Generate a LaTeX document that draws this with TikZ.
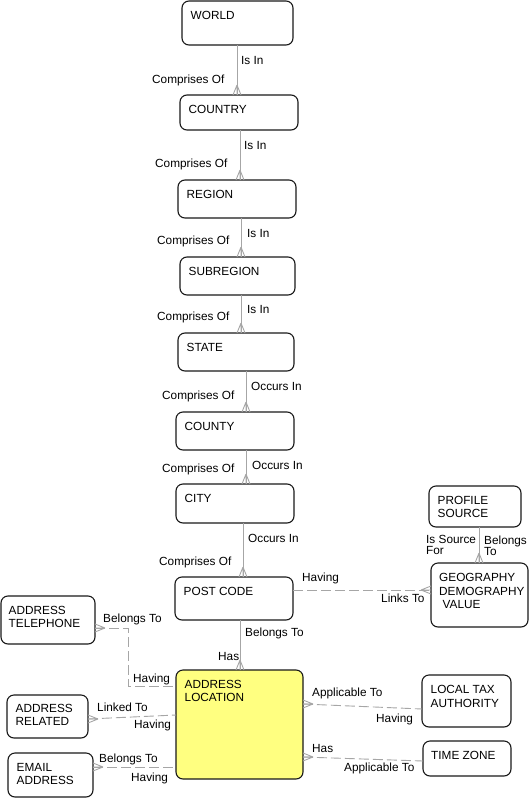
\documentclass[tikz,border=0pt]{standalone}
\usepackage{fontspec}
\setmainfont{Liberation Sans}
\begin{document}
\begin{tikzpicture}[x=1pt,y=-1pt,
  box/.style={draw=black!90, line width=1.1pt, rounded corners=7pt, inner sep=0pt, outer sep=0pt},
  ent/.style={box, fill=white},
  key/.style={box, fill={rgb,255:red,255;green,255;blue,128}},
  ttl/.style={anchor=north west, inner sep=0pt, align=left, font=\fontsize{11.8}{13.5}\selectfont},
  lbl/.style={anchor=base west, inner sep=0pt, align=left, font=\fontsize{11.8}{11}\selectfont},
  mlbl/.style={anchor=north west, inner sep=0pt, align=left, font=\fontsize{11.8}{11}\selectfont},
  conn/.style={draw=gray!70, line width=0.9pt},
  dconn/.style={conn, dash pattern=on 10pt off 4pt},
  crow/.pic={\draw[conn] (0,-10) -- (-4,0) (0,-10) -- (0,0) (0,-10) -- (4,0);}
]
\fill[white] (0,0) rectangle (530,798);
\useasboundingbox (0,0) rectangle (530,798);

% entities
\node[ent, minimum width=111pt, minimum height=44pt] (world) at (237.5,23) {};
\node[ent, minimum width=118pt, minimum height=35pt] (country) at (239,112.5) {};
\node[ent, minimum width=118pt, minimum height=38pt] (region) at (237,199) {};
\node[ent, minimum width=115pt, minimum height=38pt] (subregion) at (237.5,276) {};
\node[ent, minimum width=116pt, minimum height=38pt] (state) at (236,352) {};
\node[ent, minimum width=118pt, minimum height=38pt] (county) at (235,431) {};
\node[ent, minimum width=118pt, minimum height=39pt] (city) at (235,503.5) {};
\node[ent, minimum width=118pt, minimum height=43pt] (postcode) at (234,598.5) {};
\node[key, minimum width=127pt, minimum height=109pt] (al) at (239.5,724.5) {};
\node[ent, minimum width=94pt, minimum height=48pt] (tel) at (48,620) {};
\node[ent, minimum width=81pt, minimum height=43pt] (ar) at (47.5,716.5) {};
\node[ent, minimum width=85pt, minimum height=44pt] (email) at (50.5,775) {};
\node[ent, minimum width=92pt, minimum height=41pt] (profile) at (475,506.5) {};
\node[ent, minimum width=97pt, minimum height=64pt] (geo) at (479.5,595) {};
\node[ent, minimum width=89pt, minimum height=52pt] (lta) at (466.5,701) {};
\node[ent, minimum width=88pt, minimum height=35pt] (tz) at (467,758.5) {};

% titles
\node[ttl] (tworld) at ([shift={(8.5,10)}]world.north west) {WORLD};
\node[ttl] (tcountry) at ([shift={(8.5,10)}]country.north west) {COUNTRY};
\node[ttl] (tregion) at ([shift={(8.5,10)}]region.north west) {REGION};
\node[ttl] (tsubregion) at ([shift={(8.5,10)}]subregion.north west) {SUBREGION};
\node[ttl] (tstate) at ([shift={(8.5,10)}]state.north west) {STATE};
\node[ttl] (tcounty) at ([shift={(8.5,10)}]county.north west) {COUNTY};
\node[ttl] (tcity) at ([shift={(8.5,10)}]city.north west) {CITY};
\node[ttl] (tpostcode) at ([shift={(8.5,10)}]postcode.north west) {POST CODE};
\node[ttl] (tal) at ([shift={(8.5,10)}]al.north west) {ADDRESS\\LOCATION};
\node[ttl] (ttel) at ([shift={(7.5,10)}]tel.north west) {ADDRESS\\TELEPHONE};
\node[ttl] (tar) at ([shift={(8.5,9)}]ar.north west) {ADDRESS\\RELATED};
\node[ttl] (temail) at ([shift={(8.5,10)}]email.north west) {EMAIL\\ADDRESS};
\node[ttl] (tprofile) at ([shift={(8.5,10)}]profile.north west) {PROFILE\\SOURCE};
\node[ttl] (tgeo) at ([shift={(8,10.5)}]geo.north west) {GEOGRAPHY\\DEMOGRAPHY\\\hspace{3.5pt}VALUE};
\node[ttl] (tlta) at ([shift={(8.5,10.5)}]lta.north west) {LOCAL TAX\\AUTHORITY};
\node[ttl] (ttz) at ([shift={(8,10)}]tz.north west) {TIME ZONE};

% hierarchy connectors
\draw[conn] (237,0 |- world.south) -- (237,0 |- country.north);
\pic at (237,0 |- country.north) {crow};
\draw[conn] (240,0 |- country.south) -- (240,0 |- region.north);
\pic at (240,0 |- region.north) {crow};
\draw[conn] (241,0 |- region.south) -- (241,0 |- subregion.north);
\pic at (241,0 |- subregion.north) {crow};
\draw[conn] (241,0 |- subregion.south) -- (241,0 |- state.north);
\pic at (241,0 |- state.north) {crow};
\draw[conn] (246,0 |- state.south) -- (246,0 |- county.north);
\pic at (246,0 |- county.north) {crow};
\draw[conn] (246,0 |- county.south) -- (246,0 |- city.north);
\pic at (246,0 |- city.north) {crow};
\draw[conn] (243,0 |- city.south) -- (243,0 |- postcode.north);
\pic at (243,0 |- postcode.north) {crow};
\draw[conn] (240,0 |- postcode.south) -- (240,0 |- al.north);
\pic at (240,0 |- al.north) {crow};
\draw[conn] (479,0 |- profile.south) -- (479,0 |- geo.north);
\pic at (479,0 |- geo.north) {crow};

% dashed connectors
\draw[dconn] (postcode.east |- 0,590) -- (geo.west |- 0,590);
\pic[rotate=90] at (geo.west |- 0,590) {crow};
\draw[dconn] (tel.east |- 0,628) -- (128,628) -- (128,686) -- (al.west |- 0,686);
\pic[rotate=-90] at (tel.east |- 0,628) {crow};
\draw[dconn] (ar.east |- 0,719) -- (al.west |- 0,715);
\pic[rotate=-90] at (ar.east |- 0,719) {crow};
\draw[dconn] (email.east |- 0,767) -- (al.west |- 0,767);
\pic[rotate=-90] at (email.east |- 0,767) {crow};
\draw[dconn] (al.east |- 0,704) -- (lta.west |- 0,709);
\pic[rotate=-90] at (al.east |- 0,704) {crow};
\draw[dconn] (al.east |- 0,757) -- (tz.west |- 0,761);
\pic[rotate=-90] at (al.east |- 0,757) {crow};

% labels
\node[lbl] (l1a) at (241,64.3) {Is In};
\node[lbl] (l1b) at (152,83.3) {Comprises Of};
\node[lbl] (l2a) at (244,149.3) {Is In};
\node[lbl] (l2b) at (155,167.3) {Comprises Of};
\node[lbl] (l3a) at (247,237.3) {Is In};
\node[lbl] (l3b) at (157,244.3) {Comprises Of};
\node[lbl] (l4a) at (247,313.3) {Is In};
\node[lbl] (l4b) at (157,320.3) {Comprises Of};
\node[lbl] (l5a) at (251,390.3) {Occurs In};
\node[lbl] (l5b) at (162,399.3) {Comprises Of};
\node[lbl] (l6a) at (252,469.3) {Occurs In};
\node[lbl] (l6b) at (162,472.3) {Comprises Of};
\node[lbl] (l7a) at (248,542.3) {Occurs In};
\node[lbl] (l7b) at (159,565.3) {Comprises Of};
\node[lbl] (l8a) at (302,581.3) {Having};
\node[lbl] (l8b) at (381,602.3) {Links To};
\node[mlbl] (l9a) at (426,534.8) {Is Source\\For};
\node[mlbl] (l9b) at (484,535.8) {Belongs\\To};
\node[lbl] (l10a) at (103,622.3) {Belongs To};
\node[lbl] (l10b) at (133,682.3) {Having};
\node[lbl] (l11a) at (245,636.3) {Belongs To};
\node[lbl] (l11b) at (218,660.3) {Has};
\node[lbl] (l12a) at (97,711.3) {Linked To};
\node[lbl] (l12b) at (134,728.3) {Having};
\node[lbl] (l13a) at (99,762.3) {Belongs To};
\node[lbl] (l13b) at (131,781.3) {Having};
\node[lbl] (l14a) at (312,696.3) {Applicable To};
\node[lbl] (l14b) at (376,722.3) {Having};
\node[lbl] (l15a) at (312,752.3) {Has};
\node[lbl] (l15b) at (344,771.3) {Applicable To};
\end{tikzpicture}
\end{document}
